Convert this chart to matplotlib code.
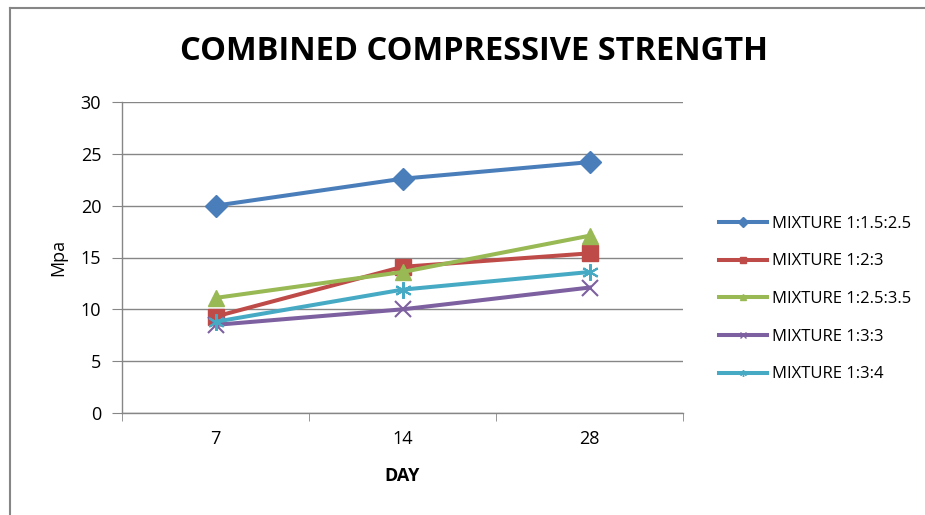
import matplotlib
matplotlib.use("Agg")
import matplotlib.pyplot as plt
from matplotlib.lines import Line2D

plt.rcParams['font.family'] = ['Open Sans', 'DejaVu Sans']

days = ['7', '14', '28']
mix_labels = ['MIXTURE 1:1.5:2.5', 'MIXTURE 1:2:3', 'MIXTURE 1:2.5:3.5',
              'MIXTURE 1:3:3', 'MIXTURE 1:3:4']
mix_1_15_25 = [20.0, 22.6, 24.2]
mix_1_2_3 = [9.3, 14.1, 15.4]
mix_1_25_35 = [11.1, 13.6, 17.1]
mix_1_3_3 = [8.5, 10.0, 12.1]
mix_1_3_4 = [8.8, 11.9, 13.6]

series = [mix_1_15_25, mix_1_2_3, mix_1_25_35, mix_1_3_3, mix_1_3_4]
colors = ['#4A7EBB', '#BE4B48', '#98B954', '#7D60A0', '#46AAC5']
markers = ['D', 's', '^', 'x', (6, 2, 0)]
msizes = [11, 11, 12, 12, 12]

fig = plt.figure(figsize=(9.25, 5.15), dpi=100)
ax = fig.add_axes([122/925, 102/515, 561/925, 311/515])

x = list(range(len(days)))
handles = []
for vals, lab, c, m, ms in zip(series, mix_labels, colors, markers, msizes):
    thin = m == 'x' or isinstance(m, tuple)
    ax.plot(x, vals, color=c, lw=2.9, marker=m, markersize=ms,
            markeredgecolor=c, markeredgewidth=1.5 if thin else 1, zorder=3)
    handles.append(Line2D([], [], color=c, lw=2.9, marker=m, markersize=5,
                          markeredgecolor=c, markeredgewidth=1))

ax.set_xlim(-0.5, 2.5)
ax.set_ylim(0, 30)
ax.set_yticks(range(0, 31, 5))
ax.set_xticks(x)
ax.set_xticklabels(days)
ax.set_xticks([-0.5, 0.5, 1.5, 2.5], minor=True)
ax.tick_params(axis='x', which='major', length=0, pad=12, labelsize=13)
ax.tick_params(axis='x', which='minor', length=6, direction='out', color='#868686')
ax.tick_params(axis='y', length=7, direction='out', color='#868686', pad=8, labelsize=13)
ax.yaxis.grid(True, color='#868686', lw=1)
ax.set_axisbelow(True)
for s in ['top', 'right']:
    ax.spines[s].set_visible(False)
for s in ['left', 'bottom']:
    ax.spines[s].set_color('#868686')
    ax.spines[s].set_linewidth(1)

ax.set_ylabel('Mpa', fontsize=13, labelpad=10)
ax.set_xlabel('DAY', fontsize=13, fontweight='bold', labelpad=14)

fig.text(474/925, 1 - 51/515, 'COMBINED COMPRESSIVE STRENGTH', ha='center', va='center',
         fontsize=23.5, fontweight='bold')

leg = fig.legend(handles=handles, labels=mix_labels, loc='center left',
                 bbox_to_anchor=(704/925, 1 - 299/515), frameon=False,
                 fontsize=12, handlelength=2.9, labelspacing=1.3, handletextpad=0.25)

# chart area border (top and left edges visible)
fig.add_artist(Line2D([10/925, 1], [1 - 8/515, 1 - 8/515], color='#868686', lw=1.5))
fig.add_artist(Line2D([10/925, 10/925], [0, 1 - 8/515], color='#868686', lw=1.5))

fig.savefig('out.png', dpi=100)
